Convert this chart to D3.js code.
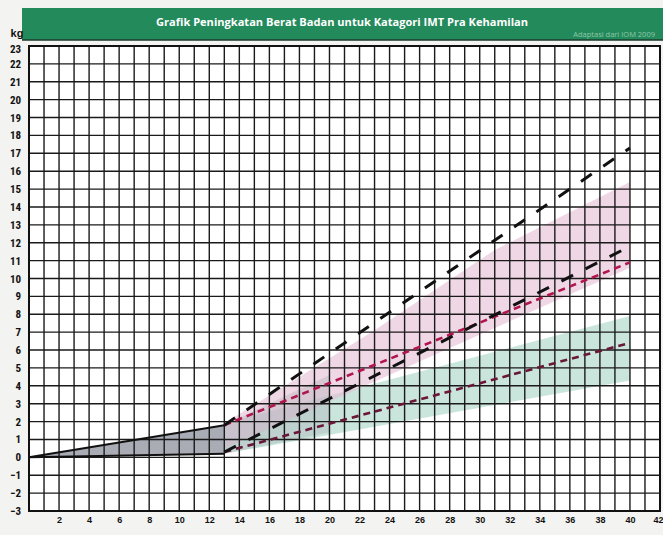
<!DOCTYPE html>
<html><head><meta charset="utf-8">
<script src="https://cdn.jsdelivr.net/npm/d3@7/dist/d3.min.js"></script>
<style>
html,body{margin:0;padding:0;background:#f3f3f1;}
svg{display:block;}
</style></head>
<body><svg id="c" width="663" height="535"></svg>
<script>
// ---- data ----
const title = "Grafik Peningkatan Berat Badan untuk Katagori IMT Pra Kehamilan";
const source = "Adaptasi dari IOM 2009";
const yUnit = "kg";
const xTicks = [2,4,6,8,10,12,14,16,18,20,22,24,26,28,30,32,34,36,38,40,42];
const yTicks = [-3,-2,-1,0,1,2,3,4,5,6,7,8,9,10,11,12,13,14,15,16,17,18,19,20,21,22,23];
// first trimester (week, kg)
const tri1Upper = [[0,0],[13,1.8]];
const tri1Lower = [[0,0],[13,0.2]];
// pink band (upper edge, lower edge)
const pinkUpper = [[13,1.9],[23,7.1],[31,11.6],[40,15.4]];
const pinkLower = [[13,0.5],[40,10.6]];
// green band
const greenUpper = [[13,1.9],[40,7.9]];
const greenLower = [[13,0.2],[40,4.3]];
// dashed lines
const blackUpper = [[13,1.8],[40,17.3]];
const blackLower = [[13,0.3],[40,11.8]];
const redUpper = [[13,1.8],[40,10.9]];
const redLower = [[13,0.3],[40,6.4]];

// ---- chart ----
const svg = d3.select("#c");
const x = d3.scaleLinear().domain([0,42]).range([29,660]);
const y = d3.scaleLinear().domain([-3,23]).range([511,46]);

// banner
svg.append("rect").attr("x",22).attr("y",8).attr("width",650).attr("height",32)
  .attr("fill","#238a5c");
svg.append("line").attr("x1",22).attr("x2",663).attr("y1",40).attr("y2",40)
  .attr("stroke","#1c3a2c").attr("stroke-width",1.5);
svg.append("text").attr("x",342).attr("y",26).attr("text-anchor","middle")
  .attr("fill","#ffffff").attr("font-family","'Open Sans',sans-serif").attr("font-weight",700)
  .attr("font-size",11).attr("textLength",372).attr("lengthAdjust","spacingAndGlyphs").text(title);
svg.append("text").attr("x",655).attr("y",37).attr("text-anchor","end")
  .attr("fill","#8fc7a8").attr("font-family","'Open Sans',sans-serif")
  .attr("font-size",7.5).text(source);

// grid background
svg.append("rect").attr("x",x(0)).attr("y",y(23)).attr("width",x(42)-x(0)).attr("height",y(-3)-y(23))
  .attr("fill","#ffffff");

const area = (up, lo) => {
  const pts = up.map(d=>[x(d[0]),y(d[1])]).concat(lo.slice().reverse().map(d=>[x(d[0]),y(d[1])]));
  return "M" + pts.map(p=>p.join(",")).join("L") + "Z";
};
// bands
svg.append("path").attr("d",area(greenUpper,greenLower)).attr("fill","#9fd0c0").attr("opacity",0.55);
svg.append("path").attr("d",area(pinkUpper,pinkLower)).attr("fill","#e6bcd3").attr("opacity",0.6);
svg.append("path").attr("d",area(tri1Upper,tri1Lower)).attr("fill","#a9abb5");
// gray overlap continuing the first trimester zone
svg.append("path").attr("d",area([[13,1.8],[20,4.6]],[[13,0.2],[20,1.4]])).attr("fill","#a9abb4").attr("opacity",0.35);

// grid
const g = svg.append("g").attr("stroke","#1a1a1a").attr("stroke-width",1.4);
g.selectAll("line.v").data(d3.range(0,43)).join("line")
  .attr("x1",d=>x(d)).attr("x2",d=>x(d)).attr("y1",y(23)).attr("y2",y(-3));
g.selectAll("line.h").data(d3.range(-3,24)).join("line")
  .attr("x1",x(0)).attr("x2",x(42)).attr("y1",d=>y(d)).attr("y2",d=>y(d));
svg.append("rect").attr("x",x(0)).attr("y",y(23)).attr("width",x(42)-x(0)).attr("height",y(-3)-y(23))
  .attr("fill","none").attr("stroke","#111").attr("stroke-width",2);

const line = d3.line().x(d=>x(d[0])).y(d=>y(d[1]));
svg.append("path").attr("d",line(tri1Upper)).attr("stroke","#111").attr("stroke-width",2).attr("fill","none");
svg.append("path").attr("d",line(tri1Lower)).attr("stroke","#111").attr("stroke-width",2).attr("fill","none");
svg.append("path").attr("d",line(redUpper)).attr("stroke","#b0154c").attr("stroke-width",2.6).attr("stroke-dasharray","7,5").attr("fill","none");
svg.append("path").attr("d",line(redLower)).attr("stroke","#6a1636").attr("stroke-width",2.6).attr("stroke-dasharray","7,5").attr("fill","none");
svg.append("path").attr("d",line(blackUpper)).attr("stroke","#111").attr("stroke-width",3).attr("stroke-dasharray","13,14").attr("fill","none");
svg.append("path").attr("d",line(blackLower)).attr("stroke","#111").attr("stroke-width",3).attr("stroke-dasharray","13,14").attr("fill","none");

// axes labels
const yAxis = d3.axisLeft(y).tickValues(yTicks).tickSize(0).tickPadding(8);
const ya = svg.append("g").attr("transform",`translate(${x(0)},0)`).call(yAxis);
ya.select(".domain").remove();
ya.selectAll("text").attr("font-family","'Liberation Sans Narrow','Roboto Condensed',sans-serif")
  .attr("font-weight",700).attr("font-size",11).attr("fill","#111")
  .attr("dy", d => d === 23 ? "0.55em" : "0.32em");
const xAxis = d3.axisBottom(x).tickValues(xTicks).tickSize(0).tickPadding(6);
const xa = svg.append("g").attr("transform",`translate(0,${y(-3)})`).call(xAxis);
xa.select(".domain").remove();
xa.selectAll("text").attr("font-family","'Liberation Sans Narrow',sans-serif")
  .attr("font-weight",700).attr("font-size",9).attr("fill","#111")
  .attr("text-anchor", d => d === 42 ? "end" : "middle")
  .attr("dx", d => d === 42 ? 3 : 0);
svg.append("text").attr("x",17).attr("y",37).attr("text-anchor","middle")
  .attr("font-family","'Liberation Sans Narrow',sans-serif").attr("font-weight",700)
  .attr("font-size",11).attr("fill","#111").text(yUnit);
</script></body></html>
